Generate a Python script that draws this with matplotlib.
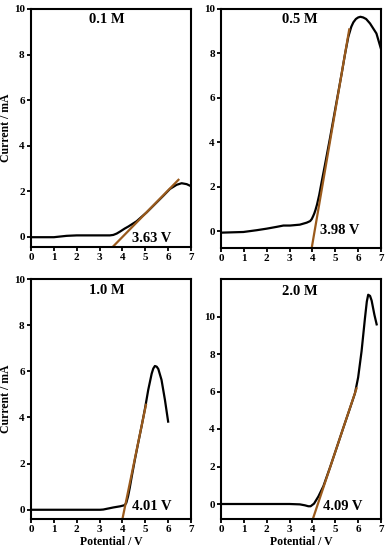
import matplotlib
matplotlib.use("Agg")
import matplotlib.pyplot as plt

plt.rcParams['font.family'] = ['Liberation Serif', 'DejaVu Serif']
plt.rcParams['font.weight'] = 'bold'

# Panel data
titles = ["0.1 M", "0.5 M", "1.0 M", "2.0 M"]
labels = ["3.63 V", "3.98 V", "4.01 V", "4.09 V"]

x_01 = [0.0, 1.0, 1.56, 2.0, 3.45, 3.6, 3.75, 3.9, 4.1, 4.26, 4.62, 5.06, 5.35, 5.79, 6.08, 6.37, 6.59, 6.81, 7.0]
y_01 = [-0.02, -0.02, 0.04, 0.06, 0.06, 0.08, 0.14, 0.23, 0.36, 0.45, 0.68, 1.07, 1.36, 1.8, 2.1, 2.28, 2.35, 2.31, 2.22]

x_05 = [0.0, 0.98, 1.56, 2.0, 2.43, 2.73, 3.02, 3.45, 3.75, 3.9, 3.97, 4.03, 4.08, 4.13, 4.2, 4.3, 4.4, 4.55, 4.77, 5.06, 5.28, 5.42, 5.57, 5.7, 5.79, 5.9, 6.0, 6.1, 6.22, 6.35, 6.52, 6.8, 7.0]
y_05 = [-0.06, -0.03, 0.05, 0.12, 0.2, 0.26, 0.26, 0.3, 0.39, 0.46, 0.55, 0.68, 0.8, 0.95, 1.2, 1.65, 2.2, 3.0, 4.2, 5.85, 7.1, 7.94, 8.75, 9.2, 9.4, 9.55, 9.62, 9.65, 9.62, 9.55, 9.35, 8.9, 8.2]

x_10 = [0.0, 1.0, 2.0, 3.02, 3.16, 3.6, 3.9, 4.1, 4.17, 4.25, 4.32, 4.4, 4.55, 4.69, 4.84, 4.99, 5.13, 5.28, 5.35, 5.42, 5.5, 5.57, 5.71, 5.86, 6.0]
y_10 = [0.0, 0.0, 0.0, 0.0, 0.01, 0.1, 0.15, 0.2, 0.3, 0.6, 0.95, 1.4, 2.2, 2.9, 3.63, 4.4, 5.2, 5.9, 6.12, 6.23, 6.2, 6.1, 5.63, 4.76, 3.82]

x_20 = [0.0, 1.0, 2.0, 3.0, 3.45, 3.67, 3.82, 3.92, 4.07, 4.26, 4.48, 4.77, 5.06, 5.35, 5.64, 5.86, 6.0, 6.15, 6.3, 6.38, 6.44, 6.52, 6.59, 6.71, 6.81]
y_20 = [0.0, 0.0, 0.0, 0.0, -0.02, -0.07, -0.12, -0.12, 0.02, 0.4, 0.95, 1.95, 3.0, 4.06, 5.1, 5.9, 6.75, 8.15, 9.93, 10.8, 11.16, 11.1, 10.85, 10.1, 9.58]

fit_x_01 = [3.57, 6.45]; fit_y_01 = [-0.45, 2.5]
fit_x_05 = [3.97, 5.61]; fit_y_05 = [-0.74, 9.08]
fit_x_10 = [4.0, 5.03];  fit_y_10 = [-0.4, 4.55]
fit_x_20 = [4.01, 5.93]; fit_y_20 = [-0.83, 6.17]

xs = [x_01, x_05, x_10, x_20]
ys = [y_01, y_05, y_10, y_20]
fxs = [fit_x_01, fit_x_05, fit_x_10, fit_x_20]
fys = [fit_y_01, fit_y_05, fit_y_10, fit_y_20]

ylims = [(-0.45, 10), (-0.75, 10), (-0.4, 10), (-0.8, 12)]
label_pos = [(4.4, -0.06), (4.33, 0.05), (4.4, 0.14), (4.48, -0.16)]
title_pos = [(3.3, 9.55), (3.45, 9.53), (3.3, 9.52), (3.45, 11.34)]

fig = plt.figure(figsize=(3.88, 5.5), dpi=100)
W, H = 388, 550
rects = [(31, 9, 191, 247), (221, 9, 381, 248), (31, 279, 191, 519), (221, 279, 381, 519)]

for i in range(4):
    l, t, r, b = rects[i]
    ax = fig.add_axes([l / W, 1 - b / H, (r - l) / W, (b - t) / H])
    ax.plot(xs[i], ys[i], color='black', lw=1.6, solid_joinstyle='round')
    ax.plot(fxs[i], fys[i], color='#9a5a1c', lw=1.6)
    ax.set_xlim(0, 7)
    ax.set_ylim(*ylims[i])
    ax.set_xticks(range(0, 8))
    ax.set_yticks(range(0, 11, 2))
    ax.tick_params(labelsize=8, width=1.3, length=3, pad=1.5)
    for lab in ax.get_xticklabels() + ax.get_yticklabels():
        lab.set_fontweight('bold')
    for sp in ax.spines.values():
        sp.set_linewidth(1.5)
    ax.text(title_pos[i][0], title_pos[i][1], titles[i], ha='center', va='center',
            fontsize=10.5, fontweight='bold')
    ax.text(label_pos[i][0], label_pos[i][1], labels[i], ha='left', va='center',
            fontsize=10.5, fontweight='bold')
    if i in (0, 2):
        ax.set_ylabel("Current / mA", fontsize=8.5, fontweight='bold', labelpad=1)
    if i in (2, 3):
        ax.set_xlabel("Potential / V", fontsize=8.5, fontweight='bold', labelpad=1)

fig.savefig("out.png", dpi=100)
